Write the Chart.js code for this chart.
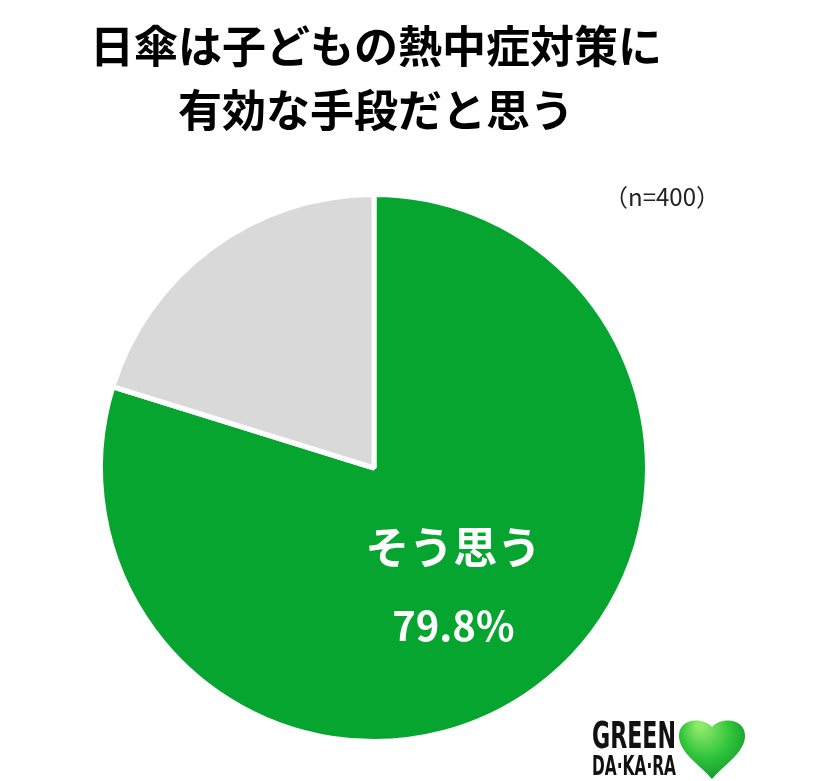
<!DOCTYPE html>
<html lang="ja">
<head>
<meta charset="UTF-8">
<title>日傘は子どもの熱中症対策に有効な手段だと思う</title>
<script src="https://cdn.jsdelivr.net/npm/chart.js@4.4.0/dist/chart.umd.min.js"></script>
<style>
  html, body { margin: 0; padding: 0; background: #fff; }
  #wrap { position: relative; width: 840px; height: 781px; }
</style>
</head>
<body>
<div id="wrap"><canvas id="pie" width="840" height="781"></canvas></div>
<script>
// data
const labels = ['そう思う', 'そう思わない'];
const values = [79.8, 20.2];
const colors = ['#05a52f', '#d9d9d9'];
const titleLines = ['日傘は子どもの熱中症対策に', '有効な手段だと思う'];
const sampleNote = '（n=400）';

const JP = '"Noto Sans CJK JP", "Noto Sans", sans-serif';

// draw text squeezed to a given width (condensed logo lettering)
function fitText(ctx, txt, x, y, w) {
  const m = ctx.measureText(txt).width;
  ctx.save();
  ctx.translate(x, y);
  ctx.scale(w / m, 1);
  ctx.fillText(txt, 0, 0);
  ctx.restore();
}

// title, note, slice label and logo
const decor = {
  id: 'decor',
  afterDraw(chart) {
    const ctx = chart.ctx;
    ctx.save();
    ctx.textAlign = 'center';
    ctx.textBaseline = 'middle';
    ctx.fillStyle = '#000';
    ctx.font = '600 44px ' + JP;
    ctx.fillText(titleLines[0], 376, 46);
    ctx.fillText(titleLines[1], 376, 110);

    ctx.font = '24px ' + JP;
    ctx.fillStyle = '#222';
    ctx.fillText(sampleNote, 662, 197);

    // label inside the big slice
    const arc = chart.getDatasetMeta(0).data[0];
    const R = arc.outerRadius;
    const lx = arc.x + R * 0.29, ly = arc.y + R * 0.29;
    ctx.fillStyle = '#fff';
    ctx.font = '600 44px ' + JP;
    ctx.fillText(labels[0], lx, ly);
    ctx.font = '600 40px ' + JP;
    ctx.fillText(values[0].toFixed(1) + '%', lx, ly + 78);

    // logo
    ctx.textAlign = 'left';
    ctx.textBaseline = 'alphabetic';
    ctx.fillStyle = '#111';
    ctx.font = 'bold 38px "DejaVu Sans", sans-serif';
    fitText(ctx, 'GREEN', 592, 748, 84);
    ctx.font = 'bold 27px "DejaVu Sans", sans-serif';
    fitText(ctx, 'DA·KA·RA', 592, 775, 84);

    const hx = 712, hy = 729;
    const g = ctx.createRadialGradient(hx - 12, hy - 4, 4, hx, hy + 12, 46);
    g.addColorStop(0, '#8ee86a');
    g.addColorStop(0.5, '#2fc43a');
    g.addColorStop(1, '#0d8a2a');
    ctx.fillStyle = g;
    ctx.beginPath();
    ctx.moveTo(hx, hy - 2);
    ctx.bezierCurveTo(hx - 8, hy - 12, hx - 34, hy - 12, hx - 33, hy + 8);
    ctx.bezierCurveTo(hx - 32, hy + 24, hx - 12, hy + 36, hx, hy + 50);
    ctx.bezierCurveTo(hx + 12, hy + 36, hx + 32, hy + 24, hx + 33, hy + 8);
    ctx.bezierCurveTo(hx + 34, hy - 12, hx + 8, hy - 12, hx, hy - 2);
    ctx.closePath();
    ctx.fill();
    ctx.restore();
  }
};

new Chart(document.getElementById('pie'), {
  type: 'pie',
  data: {
    labels: labels,
    datasets: [{
      data: values,
      backgroundColor: colors,
      borderColor: '#ffffff',
      borderWidth: 5,
      hoverOffset: 0
    }]
  },
  options: {
    responsive: false,
    animation: false,
    devicePixelRatio: 1,
    rotation: 0,
    layout: { padding: { left: 98, top: 192, right: 190, bottom: 37 } },
    plugins: {
      legend: { display: false },
      tooltip: { enabled: false },
      title: { display: false }
    }
  },
  plugins: [decor]
});
</script>
</body>
</html>
